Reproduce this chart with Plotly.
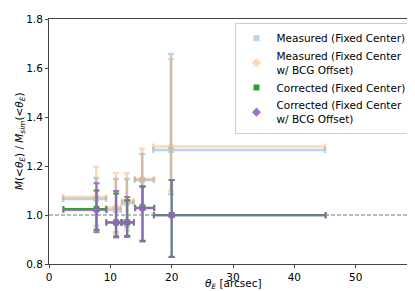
import plotly.graph_objects as go

# Data
theta_meas = [7.7, 10.9, 12.7, 15.2, 19.9]
theta_corr = [7.75, 10.95, 12.75, 15.25, 20.0]
theta_err_minus = [5.4, 1.6, 0.8, 1.2, 2.9]
theta_err_plus = [1.6, 0.8, 1.1, 1.9, 25.1]

meas_fixed = [1.065, 1.02, 1.05, 1.143, 1.265]
meas_fixed_up = [0.086, 0.127, 0.097, 0.106, 0.392]
meas_fixed_dn = [0.11, 0.09, 0.10, 0.10, 0.18]

meas_off = [1.073, 1.03, 1.057, 1.147, 1.28]
meas_off_up = [0.123, 0.141, 0.113, 0.123, 0.357]
meas_off_dn = [0.138, 0.11, 0.12, 0.11, 0.182]

corr_fixed = [1.025, 0.97, 0.97, 1.03, 1.0]
corr_fixed_up = [0.075, 0.118, 0.09, 0.085, 0.143]
corr_fixed_dn = [0.085, 0.058, 0.055, 0.135, 0.171]

corr_off = [1.02, 0.968, 0.968, 1.028, 0.998]
corr_off_up = [0.11, 0.13, 0.105, 0.09, 0.145]
corr_off_dn = [0.09, 0.06, 0.058, 0.136, 0.168]

x_ticks = [0, 10, 20, 30, 40, 50]
y_ticks = [0.8, 1.0, 1.2, 1.4, 1.6, 1.8]

BLUE = "#1f77b4"
ORANGE = "#ff7f0e"
GREEN = "#2ca02c"
PURPLE = "#9467bd"

fig = go.Figure()


def add(x, y, up, dn, color, symbol, name, opacity, thick, size):
    fig.add_trace(go.Scatter(
        x=x, y=y, mode="markers", name=name, opacity=opacity,
        marker=dict(color=color, symbol=symbol, size=size),
        error_x=dict(type="data", symmetric=False, array=theta_err_plus,
                     arrayminus=theta_err_minus, color=color, thickness=thick, width=3),
        error_y=dict(type="data", symmetric=False, array=up, arrayminus=dn,
                     color=color, thickness=thick, width=3),
    ))


add(theta_meas, meas_fixed, meas_fixed_up, meas_fixed_dn, BLUE, "square",
    "Measured (Fixed Center)", 0.3, 2.5, 6)
add(theta_meas, meas_off, meas_off_up, meas_off_dn, ORANGE, "diamond",
    "Measured (Fixed Center<br>w/ BCG Offset)", 0.3, 2.5, 7)
add(theta_corr, corr_fixed, corr_fixed_up, corr_fixed_dn, GREEN, "square",
    "Corrected (Fixed Center)", 1.0, 2.0, 6)
add(theta_corr, corr_off, corr_off_up, corr_off_dn, PURPLE, "diamond",
    "Corrected (Fixed Center<br>w/ BCG Offset)", 0.9, 2.0, 7)

fig.add_shape(type="line", xref="paper", x0=0, x1=1, yref="y", y0=1.0, y1=1.0,
              line=dict(color="#777777", width=1, dash="4px,2px"), layer="below")

axis_common = dict(showgrid=False, zeroline=False, showline=True, mirror=True,
                   linecolor="#444444", linewidth=1, ticks="outside", ticklen=3,
                   tickcolor="#444444", tickfont=dict(size=10.5, color="black"),
                   automargin=False)

fig.update_xaxes(range=[0, 60], tickvals=x_ticks, **axis_common)
fig.update_yaxes(range=[0.8, 1.8], tickvals=y_ticks, tickformat=".1f", **axis_common)

fig.add_annotation(text="<i>θ</i><sub><i>E</i></sub> [arcsec]", xref="paper", yref="paper",
                   x=0.5, y=-0.08, xanchor="center", yanchor="middle", showarrow=False,
                   font=dict(size=10.5, color="black"))
fig.add_annotation(text="<i>M</i>(&lt;<i>θ</i><sub><i>E</i></sub>) / <i>M</i><sub><i>sim</i></sub>(&lt;<i>θ</i><sub><i>E</i></sub>)",
                   xref="paper", yref="paper", x=-0.08, y=0.5, textangle=-90,
                   xanchor="center", yanchor="middle", showarrow=False,
                   font=dict(size=10.5, color="black"))

fig.update_layout(
    width=415, height=291,
    margin=dict(l=41, r=6, t=11, b=35),
    paper_bgcolor="white", plot_bgcolor="white",
    font=dict(family="DejaVu Sans", size=10.5, color="black"),
    legend=dict(x=0.985, xanchor="right", y=0.985, yanchor="top",
                bgcolor="rgba(255,255,255,0.8)", bordercolor="#cccccc", borderwidth=1,
                font=dict(size=10.5), tracegroupgap=0, itemwidth=30),
)

fig.write_html("out.html")
